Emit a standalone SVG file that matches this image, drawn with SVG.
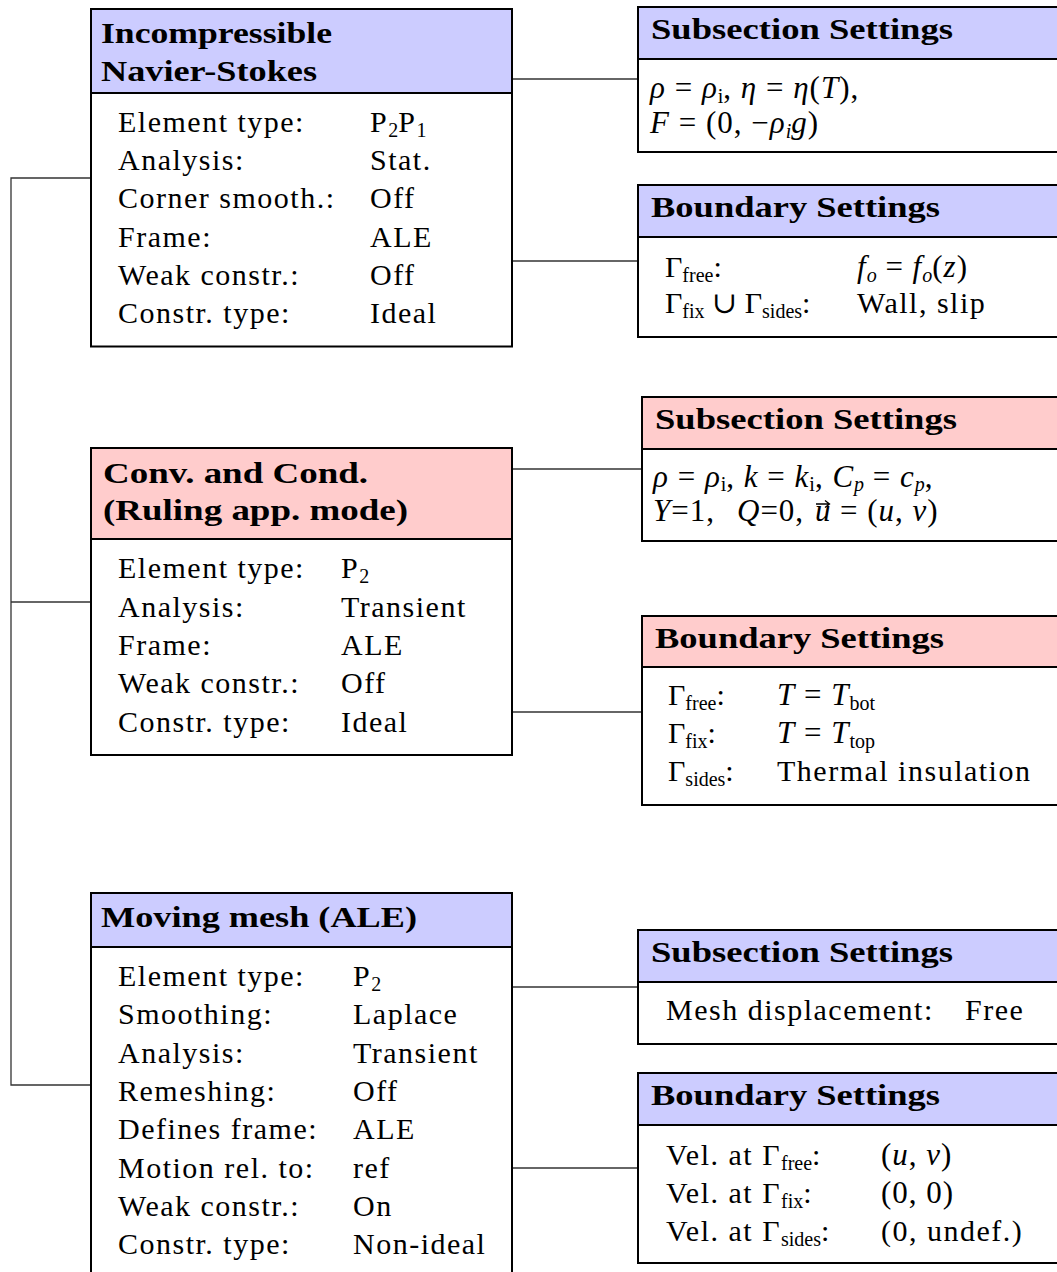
<svg xmlns="http://www.w3.org/2000/svg" width="1057" height="1272" viewBox="0 0 1057 1272">
  <style>
    .box { fill: #ffffff; stroke: #000000; stroke-width: 2; }
    .hb { fill: #ccccff; stroke: #000000; stroke-width: 2; }
    .hr { fill: #ffcccc; stroke: #000000; stroke-width: 2; }
    .conn { fill: none; stroke: #333333; stroke-width: 1.3; }
    .vec { fill: none; stroke: #000000; stroke-width: 1.3; }
    text { font-family: "Liberation Serif", "DejaVu Serif", serif; font-size: 30px; fill: #000000; }
    .t { letter-spacing: 1.5px; }
    .m { font-size: 31px; letter-spacing: 1px; }
    .h { font-weight: bold; }
    .i { font-style: italic; }
    .s { font-size: 20px; letter-spacing: 0; }
  </style>

  <!-- connectors: left bus and branches to the settings boxes -->
  <g id="connectors">
    <polyline class="conn" points="91,178 11,178 11,1085 91,1085"/>
    <line class="conn" x1="11" y1="602" x2="91" y2="602"/>
    <line class="conn" x1="512" y1="79" x2="638" y2="79"/>
    <line class="conn" x1="512" y1="261" x2="638" y2="261"/>
    <line class="conn" x1="512" y1="469" x2="642" y2="469"/>
    <line class="conn" x1="512" y1="712" x2="642" y2="712"/>
    <line class="conn" x1="512" y1="987" x2="638" y2="987"/>
    <line class="conn" x1="512" y1="1168" x2="638" y2="1168"/>
  </g>

  <!-- Incompressible Navier-Stokes -->
  <g id="node-ns">
    <rect class="box" x="91" y="93" width="421" height="253.5"/>
    <rect class="hb" x="91" y="9" width="421" height="84"/>
    <text class="h" x="101" y="43" textLength="231" lengthAdjust="spacingAndGlyphs">Incompressible</text>
    <text class="h" x="101" y="81" textLength="216" lengthAdjust="spacingAndGlyphs">Navier-Stokes</text>
    <text class="t" x="118" y="131.7">Element type:</text>
    <text class="t" x="118" y="170">Analysis:</text>
    <text class="t" x="118" y="208.3">Corner smooth.:</text>
    <text class="t" x="118" y="246.6">Frame:</text>
    <text class="t" x="118" y="285">Weak constr.:</text>
    <text class="t" x="118" y="323.3">Constr.  type:</text>
    <text class="t" x="370" y="131.7">P<tspan class="s" dy="5">2</tspan><tspan dy="-5">P</tspan><tspan class="s" dy="5">1</tspan></text>
    <text class="t" x="370" y="170">Stat.</text>
    <text class="t" x="370" y="208.3">Off</text>
    <text class="t" x="370" y="246.6">ALE</text>
    <text class="t" x="370" y="285">Off</text>
    <text class="t" x="370" y="323.3">Ideal</text>
  </g>

  <g id="node-ns-sub">
    <rect class="box" x="638" y="59" width="430" height="93"/>
    <rect class="hb" x="638" y="7" width="430" height="52"/>
    <text class="h" x="651" y="39" textLength="302" lengthAdjust="spacingAndGlyphs">Subsection Settings</text>
    <text class="m" x="650" y="98"><tspan class="i">ρ</tspan> = <tspan class="i">ρ</tspan><tspan class="s" dy="5">i</tspan><tspan dy="-5">, </tspan><tspan class="i">η</tspan> = <tspan class="i">η</tspan>(<tspan class="i">T</tspan>),</text>
    <text class="m" x="650" y="133"><tspan class="i">F</tspan> = (0, −<tspan class="i">ρ</tspan><tspan class="s i" dy="5">i</tspan><tspan class="i" dy="-5">g</tspan>)</text>
  </g>

  <g id="node-ns-bnd">
    <rect class="box" x="638" y="237" width="430" height="100"/>
    <rect class="hb" x="638" y="185" width="430" height="52"/>
    <text class="h" x="651" y="217" textLength="289" lengthAdjust="spacingAndGlyphs">Boundary Settings</text>
    <text x="665" y="277">Γ<tspan class="s" dy="5">free</tspan><tspan dy="-5">:</tspan></text>
    <text x="665" y="313">Γ<tspan class="s" dy="5">fix</tspan><tspan dy="-5"> ∪ Γ</tspan><tspan class="s" dy="5">sides</tspan><tspan dy="-5">:</tspan></text>
    <text class="m" x="857" y="277"><tspan class="i">f</tspan><tspan class="s i" dy="5">o</tspan><tspan dy="-5"> = </tspan><tspan class="i">f</tspan><tspan class="s i" dy="5">o</tspan><tspan dy="-5">(</tspan><tspan class="i">z</tspan>)</text>
    <text class="t" x="857" y="313">Wall, slip</text>
  </g>

  <!-- Convection and Conduction -->
  <g id="node-cc">
    <rect class="box" x="91" y="539" width="421" height="216"/>
    <rect class="hr" x="91" y="448" width="421" height="91"/>
    <text class="h" x="103" y="483" textLength="265" lengthAdjust="spacingAndGlyphs">Conv.  and Cond.</text>
    <text class="h" x="103" y="520" textLength="305" lengthAdjust="spacingAndGlyphs">(Ruling app.  mode)</text>
    <text class="t" x="118" y="578.3">Element type:</text>
    <text class="t" x="118" y="616.6">Analysis:</text>
    <text class="t" x="118" y="655">Frame:</text>
    <text class="t" x="118" y="693.3">Weak constr.:</text>
    <text class="t" x="118" y="731.6">Constr.  type:</text>
    <text class="t" x="341" y="578.3">P<tspan class="s" dy="5">2</tspan></text>
    <text class="t" x="341" y="616.6">Transient</text>
    <text class="t" x="341" y="655">ALE</text>
    <text class="t" x="341" y="693.3">Off</text>
    <text class="t" x="341" y="731.6">Ideal</text>
  </g>

  <g id="node-cc-sub">
    <rect class="box" x="642" y="449" width="430" height="92"/>
    <rect class="hr" x="642" y="397" width="430" height="52"/>
    <text class="h" x="655" y="429" textLength="302" lengthAdjust="spacingAndGlyphs">Subsection Settings</text>
    <text class="m" x="653" y="487"><tspan class="i">ρ</tspan> = <tspan class="i">ρ</tspan><tspan class="s" dy="4">i</tspan><tspan dy="-4">, </tspan><tspan class="i">k</tspan> = <tspan class="i">k</tspan><tspan class="s" dy="4">i</tspan><tspan dy="-4">, </tspan><tspan class="i">C</tspan><tspan class="s i" dy="4">p</tspan><tspan dy="-4"> = </tspan><tspan class="i">c</tspan><tspan class="s i" dy="4">p</tspan><tspan dy="-4">,</tspan></text>
    <text class="m" x="653" y="521"><tspan class="i">Y</tspan>=1,</text>
    <text class="m" x="737" y="521"><tspan class="i">Q</tspan>=0,</text>
    <text class="m i" x="815" y="521">u</text>
    <path class="vec" d="M816,504 H829 M825,500.5 L829.5,504 L825,507.5"/>
    <text class="m" x="840" y="521">= (<tspan class="i">u</tspan>, <tspan class="i">v</tspan>)</text>
  </g>

  <g id="node-cc-bnd">
    <rect class="box" x="642" y="667" width="430" height="138"/>
    <rect class="hr" x="642" y="616" width="430" height="51"/>
    <text class="h" x="655" y="648" textLength="289" lengthAdjust="spacingAndGlyphs">Boundary Settings</text>
    <text x="668" y="705">Γ<tspan class="s" dy="5">free</tspan><tspan dy="-5">:</tspan></text>
    <text x="668" y="743">Γ<tspan class="s" dy="5">fix</tspan><tspan dy="-5">:</tspan></text>
    <text x="668" y="781">Γ<tspan class="s" dy="5">sides</tspan><tspan dy="-5">:</tspan></text>
    <text class="m" x="777" y="705"><tspan class="i">T</tspan> = <tspan class="i">T</tspan><tspan class="s" dy="5">bot</tspan></text>
    <text class="m" x="777" y="743"><tspan class="i">T</tspan> = <tspan class="i">T</tspan><tspan class="s" dy="5">top</tspan></text>
    <text class="t" x="777" y="781">Thermal insulation</text>
  </g>

  <!-- Moving mesh (ALE) -->
  <g id="node-ale">
    <rect class="box" x="91" y="947" width="421" height="340"/>
    <rect class="hb" x="91" y="893" width="421" height="54"/>
    <text class="h" x="101" y="927" textLength="316" lengthAdjust="spacingAndGlyphs">Moving mesh (ALE)</text>
    <text class="t" x="118" y="986">Element type:</text>
    <text class="t" x="118" y="1024.3">Smoothing:</text>
    <text class="t" x="118" y="1062.6">Analysis:</text>
    <text class="t" x="118" y="1100.9">Remeshing:</text>
    <text class="t" x="118" y="1139.2">Defines frame:</text>
    <text class="t" x="118" y="1177.5">Motion rel.  to:</text>
    <text class="t" x="118" y="1215.8">Weak constr.:</text>
    <text class="t" x="118" y="1254.1">Constr.  type:</text>
    <text class="t" x="353" y="986">P<tspan class="s" dy="5">2</tspan></text>
    <text class="t" x="353" y="1024.3">Laplace</text>
    <text class="t" x="353" y="1062.6">Transient</text>
    <text class="t" x="353" y="1100.9">Off</text>
    <text class="t" x="353" y="1139.2">ALE</text>
    <text class="t" x="353" y="1177.5">ref</text>
    <text class="t" x="353" y="1215.8">On</text>
    <text class="t" x="353" y="1254.1">Non-ideal</text>
  </g>

  <g id="node-ale-sub">
    <rect class="box" x="638" y="982" width="430" height="62"/>
    <rect class="hb" x="638" y="930" width="430" height="52"/>
    <text class="h" x="651" y="962" textLength="302" lengthAdjust="spacingAndGlyphs">Subsection Settings</text>
    <text class="t" x="666" y="1020">Mesh displacement:</text>
    <text class="t" x="965" y="1020">Free</text>
  </g>

  <g id="node-ale-bnd">
    <rect class="box" x="638" y="1125" width="430" height="138"/>
    <rect class="hb" x="638" y="1073" width="430" height="52"/>
    <text class="h" x="651" y="1105" textLength="289" lengthAdjust="spacingAndGlyphs">Boundary Settings</text>
    <text class="t" x="666" y="1165">Vel.  at Γ<tspan class="s" dy="5">free</tspan><tspan dy="-5">:</tspan></text>
    <text class="t" x="666" y="1203">Vel.  at Γ<tspan class="s" dy="5">fix</tspan><tspan dy="-5">:</tspan></text>
    <text class="t" x="666" y="1241">Vel.  at Γ<tspan class="s" dy="5">sides</tspan><tspan dy="-5">:</tspan></text>
    <text class="m" x="881" y="1165">(<tspan class="i">u</tspan>, <tspan class="i">v</tspan>)</text>
    <text class="m" x="881" y="1203">(0, 0)</text>
    <text class="t" x="881" y="1241">(0, undef.)</text>
  </g>
</svg>
